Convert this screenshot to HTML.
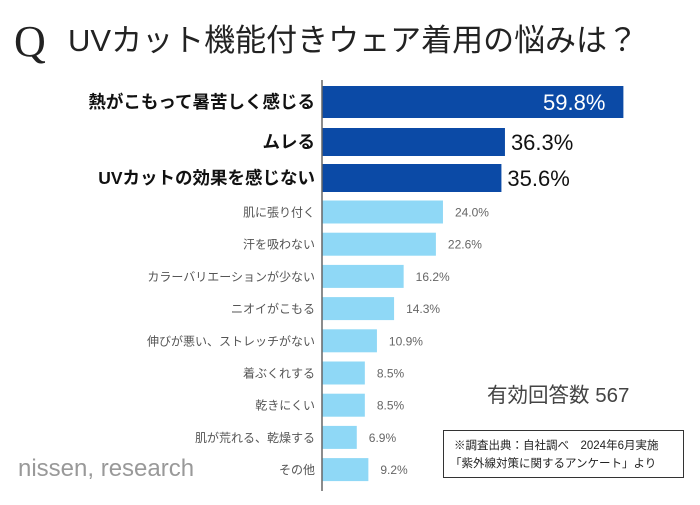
<!DOCTYPE html>
<html><head><meta charset="utf-8"><style>
body{margin:0;width:700px;height:500px;background:#fff;overflow:hidden;font-family:"Liberation Sans","Noto Sans CJK JP",sans-serif}
</style></head><body>
<svg width="700" height="500" xmlns="http://www.w3.org/2000/svg">
<text x="14" y="56" font-family="'Liberation Serif','Noto Serif CJK SC',serif" font-size="44" fill="#222">Q</text>
<text x="68" y="51" font-size="31" fill="#222">UVカット機能付きウェア着用の悩みは？</text>
<g id="bars"></g>
<line x1="322" y1="80" x2="322" y2="491" stroke="#666" stroke-width="1.5"/>
<text x="487" y="402" font-size="20.5" fill="#444">有効回答数 567</text>
<rect x="443.5" y="430.5" width="240" height="47" fill="#fff" stroke="#333"/>
<text x="454" y="449" font-size="11.5" fill="#222">※調査出典：自社調べ　2024年6月実施</text>
<text x="450" y="467" font-size="11.5" fill="#222">「紫外線対策に関するアンケート」より</text>
<text x="18" y="476" font-size="24" fill="#999">nissen, research</text>
</svg>
<script>
const categories=["熱がこもって暑苦しく感じる","ムレる","UVカットの効果を感じない","肌に張り付く","汗を吸わない","カラーバリエーションが少ない","ニオイがこもる","伸びが悪い、ストレッチがない","着ぶくれする","乾きにくい","肌が荒れる、乾燥する","その他"];
const values=[59.8,36.3,35.6,24.0,22.6,16.2,14.3,10.9,8.5,8.5,6.9,9.2];
const valueLabels=["59.8%","36.3%","35.6%","24.0%","22.6%","16.2%","14.3%","10.9%","8.5%","8.5%","6.9%","9.2%"];
const highlightCount=3;
const x0=322,pxPer=5.04;
function xScale(v){return x0+v*pxPer;}
function rowY(i){
  if(i<3) return [102,142,178][i];
  return 212+(i-3)*32.2;
}
const ns="http://www.w3.org/2000/svg",g=document.getElementById('bars');
function mk(t,a){const e=document.createElementNS(ns,t);for(const k in a)e.setAttribute(k,a[k]);g.appendChild(e);return e;}
categories.forEach((c,i)=>{
  const big=i<highlightCount,cy=rowY(i),h=big?(i==0?32:28):23;
  const r=mk('rect',{x:x0,y:cy-h/2,width:xScale(values[i])-x0,height:h,fill:big?'#0b4aa6':'#8fd8f6'});
  
  
  const l=mk('text',{x:315,y:cy+(big?6:4.5),'text-anchor':'end','font-size':big?17.5:12,'font-weight':big?'bold':'normal',fill:big?'#111':'#555'});
  l.textContent=c;
  
  
  let vx,anchor='start',fill=big?'#111':'#666';
  if(i==0){vx=xScale(values[i])-18;anchor='end';fill='#fff';}else vx=xScale(values[i])+(big?6:12);
  const v=mk('text',{x:vx,y:cy+(big?8:4.5),'text-anchor':anchor,'font-size':big?22:12,fill:fill});
  v.textContent=valueLabels[i];
  
  
});
</script>
</body></html>
